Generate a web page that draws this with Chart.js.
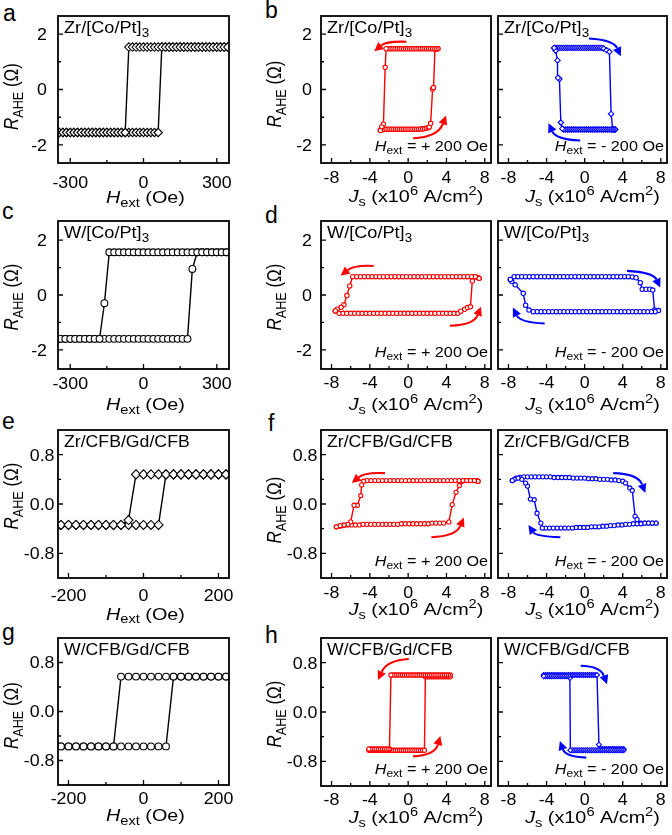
<!DOCTYPE html>
<html>
<head>
<meta charset="utf-8">
<script src="https://cdn.jsdelivr.net/npm/chart.js@4.4.1/dist/chart.umd.min.js"></script>
<style>
  body { margin: 0; background: #fff; width: 672px; height: 835px; position: relative; overflow: hidden; }
  canvas { position: absolute; }
  .lt { position: absolute; font: 23px "Liberation Sans", Arial, sans-serif; line-height: 23px; color: #000; }
</style>
</head>
<body>
<div class="lt" style="left:3px;top:2px">a</div>
<div class="lt" style="left:265px;top:-1px">b</div>
<div class="lt" style="left:2px;top:200px">c</div>
<div class="lt" style="left:265px;top:204px">d</div>
<div class="lt" style="left:2px;top:410px">e</div>
<div class="lt" style="left:268px;top:412px">f</div>
<div class="lt" style="left:2px;top:621px">g</div>
<div class="lt" style="left:265px;top:624px">h</div>
<script>
// ---- tick values ----
const TICKS_H350 = [-300, -150, 0, 150, 300], MAJ_H350 = [-300, 0, 300];
const TICKS_H228 = [-200, -100, 0, 100, 200], MAJ_H228 = [-200, 0, 200];
const TICKS_J = [-8, -6, -4, -2, 0, 2, 4, 6, 8], MAJ_J = [-8, -4, 0, 4, 8];
const TICKS_R2 = [-2, -1, 0, 1, 2], MAJ_R2 = [-2, 0, 2];
const TICKS_R08 = [-0.8, -0.4, 0, 0.4, 0.8], MAJ_R08 = [-0.8, 0, 0.8];

// ---- a: Zr/[Co/Pt]3, field sweep ----
const aField = [-345,-330,-315,-300,-285,-270,-255,-240,-225,-210,
  -195,-180,-165,-150,-135,-120,-105,-90,-75,-60,
  -45,-30,-15,0,15,30,45,60,75,90,
  105,120,135,150,165,180,195,210,225,240,
  255,270,285,300,315,330,345];
const aDown = [-1.55,-1.55,-1.55,-1.55,-1.55,-1.55,-1.55,-1.55,-1.55,-1.55,
  -1.55,-1.55,-1.55,-1.55,-1.55,-1.55,-1.55,-1.55,-1.55,
  1.53,1.53,1.53,1.53,1.53,1.53,1.53,1.53,1.53,1.53,
  1.53,1.53,1.53,1.53,1.53,1.53,1.53,1.53,1.53,1.53,
  1.53,1.53,1.53,1.53,1.53,1.53,1.53,1.53];
const aUp = [-1.55,-1.55,-1.55,-1.55,-1.55,-1.55,-1.55,-1.55,-1.55,-1.55,
  -1.55,-1.55,-1.55,-1.55,-1.55,-1.55,-1.55,-1.55,-1.55,-1.55,
  -1.55,-1.55,-1.55,-1.55,-1.55,-1.55,-1.55,-1.55,
  1.53,1.53,1.53,1.53,1.53,1.53,1.53,1.53,1.53,1.53,
  1.53,1.53,1.53,1.53,1.53,1.53,1.53,1.53,1.53];

// ---- c: W/[Co/Pt]3, field sweep ----
const cField = [-340,-320,-300,-280,-260,-240,-220,-200,-180,-160,
  -140,-120,-100,-80,-60,-40,-20,0,20,40,
  60,80,100,120,140,160,180,200,220,240,
  260,280,300,320,340];
const cDown = [-1.6,-1.6,-1.6,-1.6,-1.6,-1.6,-1.6,-1.6,-1.6,-0.3,
  1.56,1.56,1.56,1.56,1.56,1.56,1.56,1.56,1.56,1.56,
  1.56,1.56,1.56,1.56,1.56,1.56,1.56,1.56,1.56,1.56,
  1.56,1.56,1.56,1.56,1.56];
const cUp = [-1.6,-1.6,-1.6,-1.6,-1.6,-1.6,-1.6,-1.6,-1.6,-1.6,
  -1.6,-1.6,-1.6,-1.6,-1.6,-1.6,-1.6,-1.6,-1.6,-1.6,
  -1.6,-1.6,-1.6,-1.6,-1.6,-1.6,-1.6,0.95,1.56,1.56,
  1.56,1.56,1.56,1.56,1.56];

// ---- e, g: CFB/Gd/CFB, field sweep ----
const cfbField = [-220,-200,-180,-160,-140,-120,-100,-80,-60,-40,
  -20,0,20,40,60,80,100,120,140,160,
  180,200,220];
const eDown = [-0.34,-0.34,-0.34,-0.34,-0.34,-0.34,-0.34,-0.34,-0.34,-0.26,
  0.48,0.48,0.48,0.48,0.48,0.48,0.48,0.48,0.48,0.48,
  0.48,0.48,0.48];
const eUp = [-0.34,-0.34,-0.34,-0.34,-0.34,-0.34,-0.34,-0.34,-0.34,-0.34,
  -0.34,-0.34,-0.34,-0.34,0.48,0.48,0.48,0.48,0.48,0.48,
  0.48,0.48,0.48];
const gDown = [-0.57,-0.57,-0.57,-0.57,-0.57,-0.57,-0.57,-0.57,0.57,0.57,
  0.57,0.57,0.57,0.57,0.57,0.57,0.57,0.57,0.57,0.57,
  0.57,0.57,0.57];
const gUp = [-0.57,-0.57,-0.57,-0.57,-0.57,-0.57,-0.57,-0.57,-0.57,-0.57,
  -0.57,-0.57,-0.57,-0.57,-0.57,0.57,0.57,0.57,0.57,0.57,
  0.57,0.57,0.57];

// ---- b: Zr/[Co/Pt]3, current sweep ----
const bLDownJ = [3.1,2.9,2.7,2.5,2.3,2.1,1.9,1.7,1.5,1.3,
  1.1,0.9,0.7,0.5,0.3,0.1,-0.1,-0.3,-0.5,-0.7,
  -0.9,-1.1,-1.3,-1.5,-1.7,-1.9,-2.1,-2.3,-2.4,-2.58,-2.75,-2.9];
const bLDownR = [1.47,1.47,1.47,1.47,1.47,1.47,1.47,1.47,1.47,1.47,
  1.47,1.47,1.47,1.47,1.47,1.47,1.47,1.47,1.47,1.47,
  1.47,1.47,1.47,1.47,1.47,1.47,1.47,1.47,0.8,-1.25,-1.35,-1.48];
const bLUpJ = [-2.9,-2.7,-2.5,-2.3,-2.1,-1.9,-1.7,-1.5,-1.3,-1.1,
  -0.9,-0.7,-0.5,-0.3,-0.1,0.1,0.3,0.5,0.7,0.9,
  1.1,1.3,1.5,1.7,1.9,2.1,2.2,2.35,2.55,2.65,2.8,2.95,3.1];
const bLUpR = [-1.47,-1.45,-1.44,-1.43,-1.43,-1.43,-1.43,-1.43,-1.43,-1.43,
  -1.43,-1.43,-1.43,-1.43,-1.43,-1.43,-1.43,-1.43,-1.43,-1.43,
  -1.43,-1.42,-1.42,-1.41,-1.40,-1.38,-1.35,-1.22,0.02,0.07,1.45,1.47,1.47];
const bRUpJ = [-3.2,-3.0,-2.8,-2.6,-2.4,-2.2,-2.0,-1.8,-1.6,-1.4,
  -1.2,-1.0,-0.8,-0.6,-0.4,-0.2,0,0.2,0.4,0.6,
  0.8,1.0,1.2,1.4,1.6,1.8,2.0,2.3,2.6,2.78,2.95,3.1,3.2];
const bRUpR = [1.5,1.5,1.5,1.5,1.5,1.5,1.5,1.5,1.5,1.5,
  1.5,1.5,1.5,1.5,1.5,1.5,1.5,1.5,1.5,1.5,
  1.5,1.5,1.5,1.5,1.5,1.5,1.48,1.42,1.36,-0.88,-1.44,-1.44,-1.44];
const bRDownJ = [3.2,3.0,2.8,2.6,2.4,2.2,2.0,1.8,1.6,1.4,
  1.2,1.0,0.8,0.6,0.4,0.2,0,-0.2,-0.4,-0.6,
  -0.8,-1.0,-1.2,-1.4,-1.6,-1.8,-2.0,-2.2,-2.35,-2.5,-2.65,-2.8,-2.85,-3.05,-3.2];
const bRDownR = [-1.44,-1.44,-1.44,-1.44,-1.44,-1.44,-1.44,-1.44,-1.44,-1.44,
  -1.44,-1.44,-1.44,-1.44,-1.44,-1.44,-1.44,-1.44,-1.44,-1.44,
  -1.44,-1.44,-1.44,-1.44,-1.44,-1.44,-1.44,-1.44,-1.41,-1.19,0.38,0.42,1.05,1.4,1.5];

// ---- d: W/[Co/Pt]3, current sweep ----
const dLDownJ = [7.4,7.0,6.6,6.2,5.8,5.4,5.0,4.6,4.2,3.8,
  3.4,3.0,2.6,2.2,1.8,1.4,1.0,0.6,0.2,-0.2,
  -0.6,-1.0,-1.4,-1.8,-2.2,-2.6,-3.0,-3.4,-3.8,-4.2,
  -4.6,-5.0,-5.4,-5.8,-6.1,-6.4,-6.7,-7.0,-7.4,-7.6];
const dLDownR = [0.61,0.67,0.67,0.67,0.67,0.67,0.67,0.67,0.67,0.67,
  0.67,0.67,0.67,0.67,0.67,0.67,0.67,0.67,0.67,0.67,
  0.67,0.67,0.67,0.67,0.67,0.67,0.67,0.67,0.67,0.67,
  0.67,0.67,0.67,0.67,0.33,-0.02,-0.36,-0.45,-0.52,-0.58];
const dLUpJ = [-7.6,-7.2,-6.8,-6.4,-6.0,-5.6,-5.2,-4.8,-4.4,-4.0,
  -3.6,-3.2,-2.8,-2.4,-2.0,-1.6,-1.2,-0.8,-0.4,0,
  0.4,0.8,1.2,1.6,2.0,2.4,2.8,3.2,3.6,4.0,
  4.4,4.8,5.2,5.5,5.9,6.2,6.5,6.7,6.9,7.2,7.4];
const dLUpR = [-0.58,-0.67,-0.67,-0.67,-0.67,-0.67,-0.67,-0.67,-0.67,-0.67,
  -0.67,-0.67,-0.67,-0.67,-0.67,-0.67,-0.67,-0.67,-0.67,-0.67,
  -0.67,-0.67,-0.67,-0.67,-0.67,-0.67,-0.67,-0.67,-0.67,-0.67,
  -0.67,-0.67,-0.67,-0.59,-0.52,-0.46,-0.43,0.51,0.67,0.65,0.61];
const dRUpJ = [-7.8,-7.4,-7.0,-6.6,-6.2,-5.8,-5.4,-5.0,-4.6,-4.2,
  -3.8,-3.4,-3.0,-2.6,-2.2,-1.8,-1.4,-1.0,-0.6,-0.2,
  0.2,0.6,1.0,1.4,1.8,2.2,2.6,3.0,3.4,3.8,
  4.2,4.6,5.0,5.4,5.85,6.05,6.45,6.85,7.15,7.35,7.75];
const dRUpR = [0.57,0.67,0.67,0.67,0.67,0.67,0.67,0.67,0.67,0.67,
  0.67,0.67,0.67,0.67,0.67,0.67,0.67,0.67,0.67,0.67,
  0.67,0.67,0.67,0.67,0.67,0.67,0.67,0.67,0.67,0.67,
  0.67,0.67,0.66,0.63,0.45,0.21,0.21,0.21,0.18,-0.55,-0.57];
const dRDownJ = [7.75,7.4,7.0,6.6,6.2,5.8,5.4,5.0,4.6,4.2,
  3.8,3.4,3.0,2.6,2.2,1.8,1.4,1.0,0.6,0.2,
  -0.2,-0.6,-1.0,-1.4,-1.8,-2.2,-2.6,-3.0,-3.4,-3.8,
  -4.2,-4.6,-5.0,-5.4,-5.85,-6.2,-6.45,-7.3,-7.65,-7.8];
const dRDownR = [-0.57,-0.61,-0.61,-0.61,-0.61,-0.61,-0.61,-0.61,-0.61,-0.61,
  -0.61,-0.61,-0.61,-0.61,-0.61,-0.61,-0.61,-0.61,-0.61,-0.61,
  -0.61,-0.61,-0.61,-0.61,-0.61,-0.61,-0.61,-0.61,-0.61,-0.61,
  -0.61,-0.61,-0.61,-0.61,-0.55,-0.37,0.06,0.37,0.49,0.57];

// ---- f: Zr/CFB/Gd/CFB, current sweep ----
const fLDownJ = [7.3,6.9,6.5,6.1,5.7,5.3,4.9,4.5,4.1,3.7,
  3.3,2.9,2.5,2.1,1.7,1.3,0.9,0.5,0.1,-0.3,
  -0.7,-1.1,-1.5,-1.9,-2.3,-2.7,-3.1,-3.5,-3.9,-4.3,
  -4.65,-4.85,-4.95,-5.3,-5.65,-6.0,-6.3,-6.7,-7.1,-7.5];
const fLDownR = [0.37,0.38,0.38,0.38,0.38,0.38,0.38,0.38,0.38,0.38,
  0.38,0.38,0.38,0.38,0.38,0.38,0.38,0.38,0.38,0.38,
  0.38,0.38,0.38,0.38,0.38,0.38,0.38,0.38,0.38,0.38,
  0.37,0.31,0.135,-0.02,-0.02,-0.29,-0.33,-0.34,-0.35,-0.37];
const fLUpJ = [-7.5,-7.1,-6.7,-6.3,-5.9,-5.5,-5.1,-4.7,-4.3,-3.9,
  -3.5,-3.1,-2.7,-2.3,-1.9,-1.5,-1.1,-0.7,-0.3,0.1,
  0.5,0.9,1.3,1.7,2.1,2.5,2.9,3.3,3.7,
  4.25,4.6,5.0,5.35,5.55,5.9,6.3,6.7,7.1,7.3];
const fLUpR = [-0.37,-0.36,-0.35,-0.34,-0.34,-0.34,-0.34,-0.33,-0.33,-0.33,
  -0.33,-0.33,-0.33,-0.33,-0.33,-0.33,-0.33,-0.32,-0.32,-0.32,
  -0.32,-0.32,-0.32,-0.32,-0.32,-0.31,-0.31,-0.31,-0.31,
  -0.29,-0.01,0.19,0.30,0.36,0.38,0.38,0.38,0.38,0.37];
const fRUpJ = [-7.6,-7.2,-6.8,-6.4,-6.0,-5.6,-5.2,-4.8,-4.4,-4.0,
  -3.6,-3.2,-2.8,-2.4,-2.0,-1.6,-1.2,-0.8,-0.4,0,
  0.4,0.8,1.2,1.6,2.0,2.4,2.8,3.2,3.6,4.0,
  4.3,4.75,5.0,5.3,5.5,5.9,6.3,6.7,7.1,7.5];
const fRUpR = [0.38,0.42,0.43,0.44,0.44,0.44,0.44,0.44,0.44,0.44,
  0.44,0.43,0.43,0.43,0.43,0.43,0.42,0.42,0.42,0.42,
  0.41,0.41,0.41,0.40,0.40,0.40,0.39,0.39,0.38,0.37,
  0.34,0.26,0.22,-0.2,-0.25,-0.31,-0.31,-0.31,-0.31,-0.31];
const fRDownJ = [7.5,7.1,6.7,6.3,5.9,5.5,5.1,4.7,4.3,3.9,
  3.5,3.1,2.7,2.3,1.9,1.5,1.1,0.7,0.3,-0.1,
  -0.5,-0.9,-1.3,-1.7,-2.1,-2.5,-2.9,-3.3,-3.7,-4.1,
  -4.45,-4.6,-5.0,-5.3,-5.7,-6.0,-6.2,-6.6,-7.0,-7.4,-7.6];
const fRDownR = [-0.31,-0.31,-0.31,-0.31,-0.32,-0.32,-0.32,-0.33,-0.33,-0.34,
  -0.34,-0.35,-0.35,-0.36,-0.36,-0.37,-0.37,-0.37,-0.38,-0.38,
  -0.38,-0.38,-0.39,-0.39,-0.39,-0.39,-0.39,-0.39,-0.39,-0.39,
  -0.39,-0.31,-0.15,0.07,0.08,0.29,0.34,0.40,0.42,0.40,0.38];

// ---- h: W/CFB/Gd/CFB, current sweep ----
const hLDownJ = [4.4,4.2,4.0,3.8,3.6,3.4,3.2,3.0,2.8,2.6,
  2.4,2.2,2.0,1.8,1.6,1.4,1.2,1.0,0.8,0.6,
  0.4,0.2,0,-0.2,-0.4,-0.6,-0.8,-1.0,-1.2,-1.4,
  -1.6,-1.8,-1.95,-2.1,-2.3,-2.5,-2.7,-2.9,-3.1,-3.3,-3.5,-3.7,-3.9,-4.1];
const hLDownR = [0.6,0.6,0.6,0.6,0.6,0.6,0.6,0.6,0.6,0.6,
  0.6,0.6,0.6,0.6,0.6,0.6,0.6,0.6,0.6,0.6,
  0.6,0.6,0.6,0.6,0.6,0.6,0.6,0.6,0.6,0.6,
  0.6,0.6,-0.6,-0.6,-0.6,-0.6,-0.6,-0.6,-0.6,-0.6,-0.6,-0.6,-0.6,-0.6];
const hLUpJ = [-4.1,-3.9,-3.7,-3.5,-3.3,-3.1,-2.9,-2.7,-2.5,-2.3,
  -2.1,-1.9,-1.7,-1.5,-1.3,-1.1,-0.9,-0.7,-0.5,-0.3,
  -0.1,0.1,0.3,0.5,0.7,0.9,1.1,1.3,1.5,1.7,
  1.8,2.0,2.2,2.4,2.6,2.8,3.0,3.2,3.4,3.6,3.8,4.0,4.2,4.4];
const hLUpR = [-0.62,-0.62,-0.62,-0.62,-0.62,-0.62,-0.62,-0.62,-0.62,-0.62,
  -0.62,-0.62,-0.62,-0.62,-0.62,-0.62,-0.62,-0.62,-0.62,-0.62,
  -0.62,-0.62,-0.62,-0.62,-0.62,-0.62,-0.62,-0.62,-0.62,-0.62,
  0.57,0.57,0.57,0.57,0.57,0.57,0.57,0.57,0.57,0.57,0.57,0.57,0.57,0.57];
const hRUpJ = [-4.3,-4.1,-3.9,-3.7,-3.5,-3.3,-3.1,-2.9,-2.7,-2.5,
  -2.3,-2.1,-1.9,-1.7,-1.5,-1.3,-1.1,-0.9,-0.7,-0.5,
  -0.3,-0.1,0.1,0.3,0.5,0.7,0.9,1.1,1.3,
  1.5,1.7,1.9,2.1,2.3,2.5,2.7,2.9,3.1,3.3,3.5,3.7,3.9,4.1];
const hRUpR = [0.6,0.6,0.6,0.6,0.6,0.6,0.6,0.6,0.6,0.6,
  0.6,0.6,0.6,0.6,0.6,0.6,0.6,0.6,0.6,0.6,
  0.6,0.6,0.6,0.6,0.6,0.6,0.6,0.6,0.6,
  -0.53,-0.6,-0.6,-0.6,-0.6,-0.6,-0.6,-0.6,-0.6,-0.6,-0.6,-0.6,-0.6,-0.6];
const hRDownJ = [4.1,3.9,3.7,3.5,3.3,3.1,2.9,2.7,2.5,2.3,
  2.1,1.9,1.7,1.5,1.3,1.1,0.9,0.7,0.5,0.3,
  0.1,-0.1,-0.3,-0.5,-0.7,-0.9,-1.1,-1.3,-1.5,
  -1.55,-1.7,-1.9,-2.1,-2.3,-2.5,-2.7,-2.9,-3.1,-3.3,-3.5,-3.7,-3.9,-4.1,-4.3];
const hRDownR = [-0.62,-0.62,-0.62,-0.62,-0.62,-0.62,-0.62,-0.62,-0.62,-0.62,
  -0.62,-0.62,-0.62,-0.62,-0.62,-0.62,-0.62,-0.62,-0.62,-0.62,
  -0.62,-0.62,-0.62,-0.62,-0.62,-0.62,-0.62,-0.62,-0.62,
  0.55,0.58,0.58,0.58,0.58,0.58,0.58,0.58,0.58,0.58,0.58,0.58,0.58,0.58,0.58];

// sweep-direction arrows: [tailJ, tailR, ctrlJ, ctrlR, tipJ, tipR]
const bLArrows = [[-0.17,1.72,-2.24,1.75,-3.54,1.38],[0.52,-1.76,3.1,-1.72,3.96,-0.94]];
const bRArrows = [[0.46,1.84,3.02,1.79,3.8,1.2],[-0.46,-1.84,-3.0,-1.8,-3.8,-1.22]];
const dLArrows = [[-3.6,1.06,-5.6,1.1,-7.06,0.71],[4.36,-1.12,6.85,-1.1,7.6,-0.43]];
const dRArrows = [[4.45,0.88,7.19,0.83,7.94,0.27],[-4.2,-1.04,-6.76,-1.0,-7.54,-0.46]];
const fLArrows = [[-2.42,0.5,-4.5,0.52,-5.88,0.34],[2.42,-0.54,5.0,-0.52,5.81,-0.22]];
const fRArrows = [[3.0,0.5,5.6,0.49,6.37,0.18],[-2.55,-0.54,-5.13,-0.52,-5.9,-0.34]];
const hLArrows = [[0.07,0.86,-2.2,0.84,-3.15,0.52],[0.5,-0.72,2.78,-0.7,3.36,-0.39]];
const hRArrows = [[-0.41,0.75,1.66,0.74,2.35,0.45],[0.17,-0.74,-2.0,-0.73,-2.6,-0.47]];

// ---- text pieces ----
const Y_TITLE = [['R', 'i'], ['AHE', 'sub'], [' (Ω)', '']];
const H_TITLE = [['H', 'i'], ['ext', 'sub'], [' (Oe)', '']];
const J_TITLE = [['J', 'i'], ['s', 'sub'], [' (x10', ''], ['6', 'sup'], [' A/cm', ''], ['2', 'sup'], [')', '']];
const PLUS = [['H', 'i'], ['ext', 'sub'], [' = + 200 Oe', '']];
const MINUS = [['H', 'i'], ['ext', 'sub'], [' = - 200 Oe', '']];
const S_ZR_COPT = [['Zr/[Co/Pt]', ''], ['3', 'sub']];
const S_W_COPT = [['W/[Co/Pt]', ''], ['3', 'sub']];
const S_ZR_CFB = [['Zr/CFB/Gd/CFB', '']];
const S_W_CFB = [['W/CFB/Gd/CFB', '']];

const RED = '#ff0000', BLUE = '#0000ff', BLACK = '#000000';
const FONT = '"Liberation Sans", Arial, Helvetica, sans-serif';

function rich(ctx, parts, x, y, size, sx, align, rot) {
  ctx.save();
  ctx.translate(x, y);
  ctx.scale(sx, 1);
  if (rot) ctx.rotate(-Math.PI / 2);
  const segs = parts.map(([t, s]) => {
    const small = s === 'sub' || s === 'sup';
    const f = (s === 'i' ? 'italic ' : '') + (small ? size * 0.74 : size) + 'px ' + FONT;
    ctx.font = f;
    return { t, f, w: ctx.measureText(t).width, dy: s === 'sub' ? size * 0.24 : s === 'sup' ? -size * 0.4 : 0 };
  });
  const total = segs.reduce((s, g) => s + g.w, 0);
  let cx = align === 'center' ? -total / 2 : align === 'right' ? -total : 0;
  ctx.fillStyle = '#000';
  ctx.textBaseline = 'alphabetic';
  ctx.textAlign = 'left';
  segs.forEach(g => { ctx.font = g.f; ctx.fillText(g.t, cx, g.dy); cx += g.w; });
  ctx.restore();
}

function drawArrow(ctx, xs, ys, ar, color) {
  const [x0, y0, cx, cy, x1, y1] = ar;
  const X0 = xs.getPixelForValue(x0), Y0 = ys.getPixelForValue(y0);
  const CX = xs.getPixelForValue(cx), CY = ys.getPixelForValue(cy);
  const X1 = xs.getPixelForValue(x1), Y1 = ys.getPixelForValue(y1);
  const dx = X1 - CX, dy = Y1 - CY, len = Math.hypot(dx, dy);
  const ux = dx / len, uy = dy / len;
  const bx = X1 - ux * 9, by = Y1 - uy * 9;
  ctx.strokeStyle = color; ctx.fillStyle = color; ctx.lineWidth = 2.1;
  ctx.beginPath(); ctx.moveTo(X0, Y0); ctx.quadraticCurveTo(CX, CY, bx, by); ctx.stroke();
  ctx.beginPath();
  ctx.moveTo(X1, Y1);
  ctx.lineTo(bx - uy * 4.5, by + ux * 4.5);
  ctx.lineTo(bx + uy * 4.5, by - ux * 4.5);
  ctx.closePath(); ctx.fill();
}

function decor(p) {
  return {
    id: 'decor',
    afterDatasetsDraw(chart) {
      const ctx = chart.ctx, a = chart.chartArea;
      const xs = chart.scales.x, ys = chart.scales.y;
      ctx.save();
      (p.arrows || []).forEach(ar => drawArrow(ctx, xs, ys, ar, p.arrowColor));
      // inward tick marks
      ctx.strokeStyle = '#000'; ctx.lineWidth = 1.3;
      ctx.beginPath();
      p.xT.forEach(v => {
        const px = xs.getPixelForValue(v), L = p.xM.includes(v) ? 5 : 3;
        ctx.moveTo(px, a.bottom); ctx.lineTo(px, a.bottom - L);
      });
      p.yT.forEach(v => {
        const py = ys.getPixelForValue(v), L = p.yM.includes(v) ? 5 : 3;
        ctx.moveTo(a.left, py); ctx.lineTo(a.left + L, py);
      });
      ctx.stroke();
      ctx.lineWidth = 1.8;
      ctx.strokeRect(a.left, a.top, a.right - a.left, a.bottom - a.top);
      // tick labels
      p.xM.forEach(v => rich(ctx, [[String(v), '']], xs.getPixelForValue(v), a.bottom + p.tb, 16.5, 1.08, 'center'));
      if (p.yLab) {
        p.yM.forEach(v => rich(ctx, [[v.toFixed(p.dec), '']], a.left - p.gap, ys.getPixelForValue(v) + 5.9, 16.5, 1.08, 'right'));
        rich(ctx, Y_TITLE, a.left - 40, (a.top + a.bottom) / 2 + p.yto, 17, 1.15, 'center', true);
      }
      rich(ctx, p.xTitle, (a.left + a.right) / 2 + p.xto, a.bottom + p.ttb, 16.5, 1.2, 'center');
      rich(ctx, p.sample, a.left + 6, a.top + 17, p.sSize, p.sSx, 'left');
      if (p.field) rich(ctx, p.field, a.right - 3, a.bottom - 12.5, 15, 1.08, 'right');
      ctx.restore();
    }
  };
}

const fieldSeries = (x, d, u, style, r) => [
  { x, y: d, c: BLACK, s: style, r }, { x, y: u, c: BLACK, s: style, r }];
const curSeries = (dj, dr, uj, ur, c, style, r) => [
  { x: dj, y: dr, c, s: style, r }, { x: uj, y: ur, c, s: style, r }];

const R1 = { y: [-2.65, 2.65], yT: TICKS_R2, yM: MAJ_R2, dec: 0 };
const R2 = { y: [-2.7, 2.7], yT: TICKS_R2, yM: MAJ_R2, dec: 0 };
const R3 = { y: [-1.2, 1.2], yT: TICKS_R08, yM: MAJ_R08, dec: 1 };
const XH1 = { x: [-350, 350], xT: TICKS_H350, xM: MAJ_H350, xTitle: H_TITLE, xto: 2 };
const XH2 = { x: [-228, 228], xT: TICKS_H228, xM: MAJ_H228, xTitle: H_TITLE, xto: 2 };
const XJ = { x: [-9.1, 8.65], xT: TICKS_J, xM: MAJ_J, xTitle: J_TITLE, xto: 10 };

const panels = [
  { box: [58, 16, 171, 147], ...R1, ...XH1, yLab: true, gap: 11, tb: 25, ttb: 40, yto: 7,
    sample: S_ZR_COPT, sSize: 16.5, sSx: 1.1, series: fieldSeries(aField, aDown, aUp, 'rectRot', 4.2) },
  { box: [321, 16, 170, 147], ...R1, ...XJ, yLab: true, gap: 9, tb: 20, ttb: 39, yto: 4.5,
    sample: S_ZR_COPT, sSize: 16.5, sSx: 1.1, field: PLUS, arrows: bLArrows, arrowColor: RED,
    series: curSeries(bLDownJ, bLDownR, bLUpJ, bLUpR, RED, 'circle', 2.2) },
  { box: [498, 16, 169, 147], ...R1, ...XJ, yLab: false, tb: 20, ttb: 39,
    sample: S_ZR_COPT, sSize: 16.5, sSx: 1.1, field: MINUS, arrows: bRArrows, arrowColor: BLUE,
    series: curSeries(bRDownJ, bRDownR, bRUpJ, bRUpR, BLUE, 'rectRot', 2.7) },
  { box: [58, 221, 171, 148], ...R2, ...XH1, yLab: true, gap: 11, tb: 19.5, ttb: 41, yto: 2,
    sample: S_W_COPT, sSize: 16.5, sSx: 1.1, series: fieldSeries(cField, cDown, cUp, 'circle', 3.4) },
  { box: [321, 221, 170, 148], ...R2, ...XJ, yLab: true, gap: 9, tb: 19, ttb: 41, yto: 2,
    sample: S_W_COPT, sSize: 16.5, sSx: 1.1, field: PLUS, arrows: dLArrows, arrowColor: RED,
    series: curSeries(dLDownJ, dLDownR, dLUpJ, dLUpR, RED, 'circle', 2.2) },
  { box: [498, 221, 169, 148], ...R2, ...XJ, yLab: false, tb: 19, ttb: 41,
    sample: S_W_COPT, sSize: 16.5, sSx: 1.1, field: MINUS, arrows: dRArrows, arrowColor: BLUE,
    series: curSeries(dRDownJ, dRDownR, dRUpJ, dRUpR, BLUE, 'circle', 2.2) },
  { box: [58, 430, 171, 148], ...R3, ...XH2, yLab: true, gap: 3.5, tb: 23.4, ttb: 41.5, yto: -8,
    sample: S_ZR_CFB, sSize: 17, sSx: 1.04, series: fieldSeries(cfbField, eDown, eUp, 'rectRot', 4.5) },
  { box: [321, 430, 170, 148], ...R3, ...XJ, yLab: true, gap: 3.5, tb: 20, ttb: 37, yto: 6,
    sample: S_ZR_CFB, sSize: 17, sSx: 1.04, field: PLUS, arrows: fLArrows, arrowColor: RED,
    series: curSeries(fLDownJ, fLDownR, fLUpJ, fLUpR, RED, 'circle', 2.1) },
  { box: [498, 430, 169, 148], ...R3, ...XJ, yLab: false, tb: 20, ttb: 37,
    sample: S_ZR_CFB, sSize: 17, sSx: 1.04, field: MINUS, arrows: fRArrows, arrowColor: BLUE,
    series: curSeries(fRDownJ, fRDownR, fRUpJ, fRUpR, BLUE, 'circle', 2.1) },
  { box: [58, 638, 171, 147], ...R3, ...XH2, yLab: true, gap: 3.5, tb: 19, ttb: 36, yto: 4,
    sample: S_W_CFB, sSize: 17, sSx: 1.04, series: fieldSeries(cfbField, gDown, gUp, 'circle', 3.4) },
  { box: [321, 638, 170, 148], ...R3, ...XJ, yLab: true, gap: 3.5, tb: 19, ttb: 37, yto: 2,
    sample: S_W_CFB, sSize: 17, sSx: 1.04, field: PLUS, arrows: hLArrows, arrowColor: RED,
    series: curSeries(hLDownJ, hLDownR, hLUpJ, hLUpR, RED, 'circle', 2.1) },
  { box: [498, 638, 169, 148], ...R3, ...XJ, yLab: false, tb: 19, ttb: 37,
    sample: S_W_CFB, sSize: 17, sSx: 1.04, field: MINUS, arrows: hRArrows, arrowColor: BLUE,
    series: curSeries(hRDownJ, hRDownR, hRUpJ, hRUpR, BLUE, 'rectRot', 2.5) },
];

const PAD = { left: 60, top: 12, right: 6, bottom: 50 };

panels.forEach(p => {
  const [L, T, W, H] = p.box;
  const cw = W + PAD.left + PAD.right, ch = H + PAD.top + PAD.bottom;
  const cv = document.createElement('canvas');
  cv.width = cw; cv.height = ch;
  cv.style.left = (L - PAD.left) + 'px';
  cv.style.top = (T - PAD.top) + 'px';
  cv.style.width = cw + 'px';
  cv.style.height = ch + 'px';
  document.body.appendChild(cv);

  const datasets = [];
  p.series.forEach(s => {
    const pts = s.x.map((v, i) => ({ x: v, y: s.y[i] }));
    // connecting line first, markers on top
    datasets.push({ data: pts, showLine: true, borderColor: s.c, borderWidth: 1.4,
      pointRadius: 0, order: 2 });
    datasets.push({ data: pts, showLine: false, pointStyle: s.s, pointRadius: s.r,
      pointBorderWidth: 1.1, pointBorderColor: s.c, pointBackgroundColor: '#ffffff', order: 1 });
  });

  new Chart(cv, {
    type: 'scatter',
    data: { datasets },
    options: {
      responsive: false,
      animation: false,
      events: [],
      layout: { padding: PAD },
      plugins: { legend: { display: false }, tooltip: { enabled: false } },
      scales: {
        x: { type: 'linear', min: p.x[0], max: p.x[1], display: false },
        y: { type: 'linear', min: p.y[0], max: p.y[1], display: false },
      },
    },
    plugins: [decor(p)],
  });
});
</script>
</body>
</html>
